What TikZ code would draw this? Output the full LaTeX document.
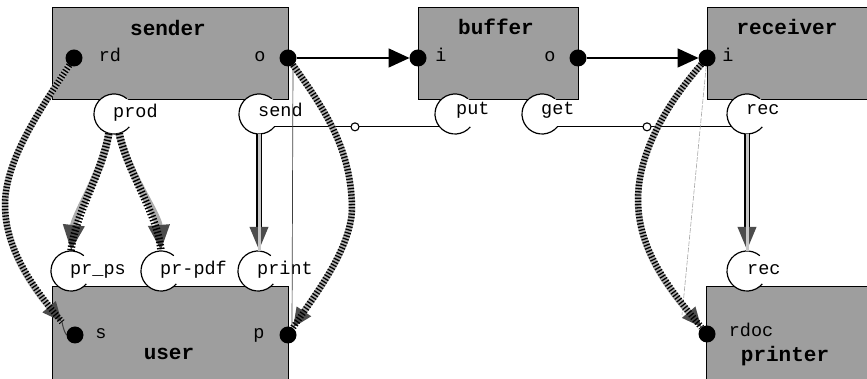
\documentclass[tikz,border=0pt]{standalone}
\usepackage{fontspec}
\setmonofont{Liberation Mono}
\usetikzlibrary{arrows.meta,calc}
\pgfdeclarelayer{bg}\pgfdeclarelayer{fg}\pgfsetlayers{bg,main,fg}
\definecolor{boxgray}{gray}{0.62}
\definecolor{ropegray}{gray}{0.68}
\definecolor{tipgray}{gray}{0.3}
\begin{document}
\begin{tikzpicture}[x=1pt,y=1pt,
  comp/.style={draw=black, line width=0.8pt, fill=boxgray, inner sep=0pt, outer sep=0pt},
  ttl/.style={font=\ttfamily\bfseries\fontsize{21}{21}\selectfont, inner sep=0pt, anchor=base},
  lbl/.style={font=\ttfamily\fontsize{18.5}{18.5}\selectfont, inner sep=0pt, anchor=base},
  plbl/.style={lbl, anchor=base west},
  dot/.style={circle, fill=black, inner sep=0pt, minimum size=17pt, outer sep=0pt},
  jn/.style={circle, draw=black, line width=1.1pt, fill=white, inner sep=0pt, minimum size=8pt, outer sep=0pt},
  portc/.style={circle, fill=white, inner sep=0pt, minimum size=40pt, outer sep=0pt},
  carc/.style={draw=black, line width=1.2pt},
  link/.style={draw=black, line width=1.3pt},
  sig/.style={draw=black, line width=1.6pt, -{Triangle[length=21pt,width=19pt]}},
  rope/.style={line width=6.5pt, draw=ropegray, -{Triangle[length=20pt,width=16pt,color=tipgray]},
    postaction={draw=black, -, line width=6.5pt, dash pattern=on 1.3pt off 1.9pt}},
  hatch/.style={line width=7.5pt, draw=ropegray, -{Triangle[length=26pt,width=20pt,color=tipgray]},
    postaction={draw=black, -, line width=7.5pt, dash pattern=on 1.4pt off 1.9pt}},
  dblarrow/.style={line width=6pt, draw=black, -{Triangle[length=24pt,width=17pt,color=tipgray]},
    postaction={draw=gray!45, -, line width=3pt}},
  thinl/.style={draw=black!75, line width=0.7pt},
  faint/.style={draw=gray!70, line width=0.6pt, dash pattern=on 5pt off 1.5pt}
]
\useasboundingbox (0,0) rectangle (867,379);

% components
\begin{pgfonlayer}{bg}
\node[comp, minimum width=236pt, minimum height=92pt] (sender) at (170,326) {};
\node[comp, minimum width=160pt, minimum height=92pt] (buffer) at (498,326) {};
\node[comp, minimum width=183pt, minimum height=92pt] (receiver) at (798.5,326) {};
\node[comp, minimum width=236pt, minimum height=109pt] (user) at (170,38.5) {};
\node[comp, minimum width=184pt, minimum height=109pt] (printer) at (798,38.5) {};
\end{pgfonlayer}

% ports (dots)
\begin{pgfonlayer}{fg}
\node[dot] (rd) at (74,321) {};
\node[dot] (so) at (288,321) {};
\node[dot] (bi) at (418,321) {};
\node[dot] (bo) at (578,321) {};
\node[dot] (ri) at (707,321) {};
\node[dot] (s) at (75,44) {};
\node[dot] (p) at (288,44) {};
\node[dot] (rdoc) at (707,45) {};
\end{pgfonlayer}

% titles and port labels
\node[ttl] (senderT) at (168,343) {sender};
\node[ttl] (bufferT) at (496,344) {buffer};
\node[ttl] (receiverT) at (787,344) {receiver};
\node[ttl] (userT) at (169,19) {user};
\node[ttl] (printerT) at (785,17) {printer};
\node[lbl] (rdL) at (110,317) {rd};
\node[lbl] (soL) at (260,317) {o};
\node[lbl] (biL) at (441,317) {i};
\node[lbl] (boL) at (550,317) {o};
\node[lbl] (riL) at (728,317) {i};
\node[lbl] (sL) at (101,40) {s};
\node[lbl] (pL) at (259,40) {p};
\node[lbl] (rdocL) at (751,42) {rdoc};

% service circles
\node[portc] (prod) at (114,265) {};
\node[portc] (send) at (259,265) {};
\node[portc] (put) at (455,265) {};
\node[portc] (get) at (542,265) {};
\node[portc] (rec) at (747,265) {};
\node[portc] (prps) at (71,108) {};
\node[portc] (prpdf) at (161,108) {};
\node[portc] (print) at (258,108) {};
\node[portc] (recb) at (747,108) {};
\foreach \n in {prod,send,put,get,rec,prps,prpdf,print,recb}
  \draw[carc] (\n.50) arc[start angle=50, end angle=320, radius=20pt];

\node[plbl] (prodL) at (113,261) {prod};
\node[plbl] (sendL) at (258,262) {send};
\node[plbl] (putL) at (456,264) {put};
\node[plbl] (getL) at (541,264) {get};
\node[plbl] (recL) at (746,264) {rec};
\node[plbl] (prpsL) at (70,104) {pr\_ps};
\node[plbl] (prpdfL) at (160,104) {pr-pdf};
\node[plbl] (printL) at (257,104) {print};
\node[plbl] (recbL) at (747,104) {rec};

% junctions and links
\node[jn] (j1) at (355,0 |- send.320) {};
\node[jn] (j2) at (647,0 |- get.320) {};
\draw[link] (send.320) -- (j1);
\draw[link] (j1) -- (put.220);
\draw[link] (get.320) -- (j2);
\draw[link] (j2) -- (rec.220);

% signal arrows
\draw[sig] (so) -- (bi);
\draw[sig] (bo) -- (ri);

% thin lines
\draw[thinl] ($(so)+(5,-5)$) -- ($(p)+(4,6)$);
\coordinate (rthin) at (682,64);
\draw[faint] (ri) -- (rthin);

% call arrows
\draw[hatch] (prod.255) .. controls (102,205) and (75,165) .. (prps.north);
\draw[hatch] (prod.285) .. controls (128,205) and (158,165) .. (prpdf.north);
\draw[dblarrow] (send.south) -- (send.south |- print.north);
\draw[dblarrow] (rec.south) -- (recb.north);

% delegation ropes
\coordinate (shook) at (62,57);
\draw[rope] (rd) .. controls (40,269) and (5,219) .. (5,174) .. controls (5,129) and (35,89) .. (shook);
\draw[thinl, line width=1pt] (shook) .. controls (64,46) and (67,44) .. (s);
\draw[rope] (so) .. controls (325,269) and (352,229) .. (352,169) .. controls (350,129) and (315,84) .. (p);
\draw[rope] (ri) .. controls (670,279) and (638,229) .. (638,179) .. controls (638,129) and (670,89) .. (rdoc);
\end{tikzpicture}
\end{document}
